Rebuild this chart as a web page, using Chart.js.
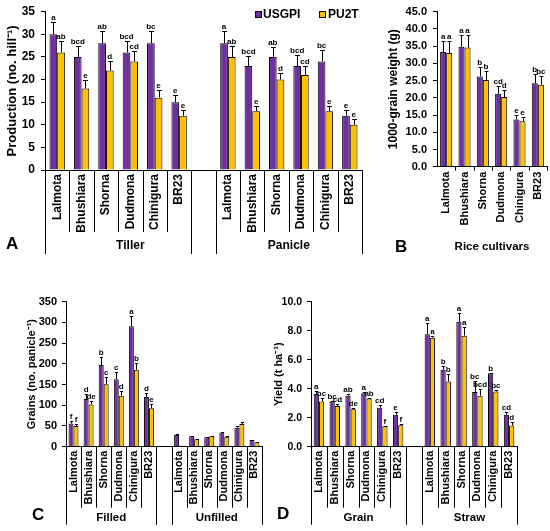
<!DOCTYPE html>
<html><head><meta charset="utf-8">
<script src="https://cdn.jsdelivr.net/npm/chart.js@4.4.1/dist/chart.umd.min.js"></script>
<style>
html,body{margin:0;padding:0;background:#fff;overflow:hidden;width:550px;height:531px}
.pan{position:absolute}
.txt{position:absolute;font-family:'Liberation Sans',Arial,Helvetica,sans-serif;font-weight:bold;color:#000;line-height:1;white-space:nowrap}
.box{position:absolute;width:5px;height:5px;border:1px solid #000}
</style></head><body>
<div class="pan" style="left:0;top:0;width:372px;height:262px"><canvas id="cA"></canvas></div>
<div class="pan" style="left:378px;top:0;width:172px;height:262px"><canvas id="cB"></canvas></div>
<div class="pan" style="left:0;top:262px;width:275px;height:269px"><canvas id="cC"></canvas></div>
<div class="pan" style="left:262px;top:262px;width:288px;height:269px"><canvas id="cD"></canvas></div>

<div class="box" style="left:255px;top:11px;background:#7030A0"></div>
<div class="txt" style="left:263px;top:8px;font-size:12px">USGPI</div>
<div class="box" style="left:319px;top:11px;background:#FFC000"></div>
<div class="txt" style="left:328px;top:8px;font-size:12px">PU2T</div>

<div class="txt" style="left:6px;top:235px;font-size:17px">A</div>
<div class="txt" style="left:395px;top:238px;font-size:17px">B</div>
<div class="txt" style="left:32px;top:506px;font-size:17px">C</div>
<div class="txt" style="left:277px;top:505px;font-size:17px">D</div>

<script>
// ---------- data ----------
const cultivars = ['Lalmota','Bhushiara','Shorna','Dudmona','Chinigura','BR23'];
const seriesNames = ['USGPI','PU2T'];

// Panel A: production (no. hill-1)
const aGroups = ['Tiller','Panicle'];
const tillerUSGPI = [30,25,28,26,28,15];
const tillerPU2T  = [26,18,22,24,16,12];
const tillerErrUSGPI = [2.8,2.5,2.8,2.5,2.8,1.6];
const tillerErrPU2T  = [2.6,1.9,2.2,2.4,1.7,1.3];
const tillerLetUSGPI = ['a','bcd','ab','bcd','bc','e'];
const tillerLetPU2T  = ['ab','e','d','cd','e','e'];
const panicleUSGPI = [28,23,25,23,24,12];
const paniclePU2T  = [25,13,20,21,13,10];
const panicleErrUSGPI = [2.8,2.2,2.3,2.4,2.5,1.2];
const panicleErrPU2T  = [2.4,1.1,1.4,2.1,1.1,1.2];
const panicleLetUSGPI = ['a','bcd','ab','bcd','bc','e'];
const panicleLetPU2T  = ['ab','e','d','cd','e','e'];
const aTicks = [0,5,10,15,20,25,30,35];

// Panel B: 1000-grain weight (g)
const weightUSGPI = [33.3,34.8,26.2,21.2,13.7,24.2];
const weightPU2T  = [33.0,34.6,25.2,20.2,13.2,23.8];
const weightErrUSGPI = [3.3,3.5,2.7,2.3,1.3,2.6];
const weightErrPU2T  = [3.4,3.5,2.5,2.1,1.2,2.5];
const weightLetUSGPI = ['a','a','b','cd','e','b'];
const weightLetPU2T  = ['a','a','b','d','e','bc'];
const bTicks = [0,5,10,15,20,25,30,35,40,45];

// Panel C: grains (no. panicle-1)
const cGroups = ['Filled','Unfilled'];
const filledUSGPI = [56,115,197,163,291,120];
const filledPU2T  = [50,102,151,123,186,93];
const filledErrUSGPI = [7,12,19,17,25,10];
const filledErrPU2T  = [5,8,17,12,17,9];
const filledLetUSGPI = ['f','d','b','c','a','d'];
const filledLetPU2T  = ['f','de','c','d','b','e'];
const unfilledUSGPI = [28,25,23,34,46,16];
const unfilledPU2T  = [2,18,25,24,55,11];
const unfilledErrUSGPI = [2,1.5,1.5,2.5,3,1];
const unfilledErrPU2T  = [0.5,1.5,1.5,1.5,4,1];
const cTicks = [0,50,100,150,200,250,300,350];

// Panel D: yield (t ha-1)
const dGroups = ['Grain','Straw'];
const grainUSGPI = [3.63,3.12,3.52,3.68,2.69,2.20];
const grainPU2T  = [3.12,2.80,2.59,3.33,1.41,1.48];
const grainErrUSGPI = [0.19,0.05,0.14,0.09,0.21,0.18];
const grainErrPU2T  = [0.24,0.14,0.07,0.05,0.05,0.12];
const grainLetUSGPI = ['a','bc','ab','a','cd','e'];
const grainLetPU2T  = ['bc','cd','de','ab','f','f'];
const strawUSGPI = [7.75,5.30,8.61,3.77,5.07,2.20];
const strawPU2T  = [7.52,4.49,7.66,3.52,3.80,1.46];
const strawErrUSGPI = [0.75,0.30,0.60,0.74,0.03,0.18];
const strawErrPU2T  = [0.14,0.53,0.60,0.46,0.09,0.25];
const strawLetUSGPI = ['a','b','a','bc','b','cd'];
const strawLetPU2T  = ['a','b','a','bcd','bc','d'];
const dTicks = [0,2,4,6,8,10];

// ---------- helpers ----------
const FONT = "'Liberation Sans', Arial, Helvetica, sans-serif";
const PURPLE = '#7030A0', YELLOW = '#FFC000';
Chart.defaults.font.family = FONT;
Chart.defaults.font.weight = 'bold';
Chart.defaults.color = '#000';

const join = (a, b, gap) => [...a, gap, ...b];

const errPlugin = {
  id: 'errLetters',
  afterDatasetsDraw(chart, args, o) {
    const ctx = chart.ctx, ys = chart.scales.y;
    chart.data.datasets.forEach((ds, di) => {
      const meta = chart.getDatasetMeta(di);
      meta.data.forEach((bar, i) => {
        const v = ds.data[i];
        if (v == null) return;
        const e = ds.errors ? ds.errors[i] : null;
        const x = Math.round(bar.x) + 0.5;
        let top = bar.y;
        ctx.save();
        if (e != null && e > 0) {
          top = Math.round(ys.getPixelForValue(v + e)) + 0.5;
          const hw = bar.width * o.cap / 2;
          ctx.strokeStyle = '#000'; ctx.lineWidth = 1;
          ctx.beginPath();
          ctx.moveTo(x, bar.y); ctx.lineTo(x, top);
          ctx.moveTo(x - hw, top); ctx.lineTo(x + hw, top);
          ctx.stroke();
        }
        const L = ds.letters ? ds.letters[i] : '';
        if (L) {
          ctx.font = 'bold ' + o.size + 'px ' + FONT;
          ctx.fillStyle = '#000'; ctx.textAlign = 'center'; ctx.textBaseline = 'bottom';
          ctx.fillText(L, bar.x, top - 1);
        }
        ctx.restore();
      });
    });
  }
};

const sepPlugin = {
  id: 'sep',
  afterDraw(chart, args, o) {
    const ctx = chart.ctx, xs = chart.scales.x;
    const n = chart.data.labels.length;
    const step = (xs.right - xs.left) / n;
    const y0 = xs.top;
    ctx.save();
    ctx.strokeStyle = '#000'; ctx.lineWidth = 1;
    ctx.beginPath();
    for (let k = 0; k <= n; k++) {
      if (o.skip && o.skip.includes(k)) continue;
      const len = o.outer.includes(k) ? o.outerLen : o.innerLen;
      const x = Math.round(xs.left + k * step) + 0.5;
      ctx.moveTo(x, y0); ctx.lineTo(x, y0 + len);
    }
    ctx.stroke();
    if (o.groups) {
      ctx.font = 'bold ' + o.groupSize + 'px ' + FONT;
      ctx.fillStyle = '#000'; ctx.textAlign = 'center'; ctx.textBaseline = 'middle';
      o.groups.forEach((g, gi) => {
        const span = o.spans[gi];
        const cx = xs.left + (span[0] + span[1]) / 2 * step;
        ctx.fillText(g, cx, o.groupY);
      });
    }
    ctx.restore();
  }
};

function makeChart(id, c) {
  const ds = (name, data, errs, lets, color) => ({
    label: name, data: data, errors: errs, letters: lets,
    backgroundColor: color, borderColor: '#000', borderWidth: 1,
    categoryPercentage: c.cp, barPercentage: 1.0
  });
  return new Chart(document.getElementById(id), {
    type: 'bar',
    data: {
      labels: c.labels,
      datasets: [
        ds(seriesNames[0], c.u, c.ue, c.ul, PURPLE),
        ds(seriesNames[1], c.p, c.pe, c.pl, YELLOW)
      ]
    },
    options: {
      responsive: true, maintainAspectRatio: false, animation: false,
      layout: { padding: c.pad },
      plugins: {
        legend: { display: false }, tooltip: { enabled: false },
        errLetters: { cap: 0.65, size: 8 },
        sep: c.sep
      },
      scales: {
        x: {
          grid: { display: false, drawTicks: false },
          border: { display: true, color: '#000', width: 1 },
          ticks: { autoSkip: false, maxRotation: 90, minRotation: 90, padding: c.xPad,
                   font: { size: c.xFont, weight: 'bold' } },
          title: c.xTitle ? { display: true, text: c.xTitle, font: { size: 11.5, weight: 'bold' },
                              padding: { top: 0, bottom: c.xTitlePad } } : { display: false },
          afterFit(s) { s.height = c.xH; s.paddingLeft = 0; s.paddingRight = 0; }
        },
        y: {
          min: 0, max: c.ticks[c.ticks.length - 1],
          afterBuildTicks(s) { s.ticks = c.ticks.map(v => ({ value: v })); },
          ticks: { padding: c.yPad, font: { size: c.yFont, weight: 'bold' },
                   callback: v => c.dec ? Number(v).toFixed(c.dec) : v },
          grid: { display: true, drawOnChartArea: false, drawTicks: true, tickLength: 4, color: '#000' },
          border: { display: true, color: '#000', width: 1 },
          title: { display: true, text: c.yTitle, font: { size: c.yTitleFont, weight: 'bold' },
                   padding: { top: c.yTitlePad, bottom: 0 } },
          afterFit(s) { s.width = c.yW; s.paddingTop = 0; s.paddingBottom = 0; }
        }
      }
    },
    plugins: [errPlugin, sepPlugin]
  });
}

// Panel A
makeChart('cA', {
  labels: join(cultivars, cultivars, ''),
  u: join(tillerUSGPI, panicleUSGPI, null), p: join(tillerPU2T, paniclePU2T, null),
  ue: join(tillerErrUSGPI, panicleErrUSGPI, null), pe: join(tillerErrPU2T, panicleErrPU2T, null),
  ul: join(tillerLetUSGPI, panicleLetUSGPI, ''), pl: join(tillerLetPU2T, panicleLetPU2T, ''),
  cp: 0.63, ticks: aTicks, dec: 0,
  pad: { left: 0, top: 11.7, right: 10, bottom: 0 },
  yW: 45, xH: 92, xPad: 4, xFont: 12, yFont: 12, yPad: 6,
  yTitle: 'Production (no. hill\u207B\u00B9)', yTitleFont: 13, yTitlePad: 5,
  sep: { outer: [0, 6, 7, 13], outerLen: 84, innerLen: 62, groups: aGroups,
         spans: [[0, 7], [7, 13]], groupY: 246, groupSize: 12 }
});

// Panel B
makeChart('cB', {
  labels: cultivars,
  u: weightUSGPI, p: weightPU2T, ue: weightErrUSGPI, pe: weightErrPU2T,
  ul: weightLetUSGPI, pl: weightLetPU2T,
  cp: 0.66, ticks: bTicks, dec: 1,
  pad: { left: 0, top: 11.7, right: 3, bottom: 0 },
  yW: 59, xH: 95.3, xPad: 5, xFont: 11, yFont: 11, yPad: 6,
  yTitle: '1000-grain weight (g)', yTitleFont: 12, yTitlePad: 8,
  xTitle: 'Rice cultivars', xTitlePad: 8.5,
  sep: { outer: [], outerLen: 4, innerLen: 4, skip: [0] }
});

// Panel C
makeChart('cC', {
  labels: join(cultivars, cultivars, ''),
  u: join(filledUSGPI, unfilledUSGPI, null), p: join(filledPU2T, unfilledPU2T, null),
  ue: join(filledErrUSGPI, unfilledErrUSGPI, null), pe: join(filledErrPU2T, unfilledErrPU2T, null),
  ul: join(filledLetUSGPI, ['', '', '', '', '', ''], ''), pl: join(filledLetPU2T, ['', '', '', '', '', ''], ''),
  cp: 0.66, ticks: cTicks, dec: 0,
  pad: { left: 20, top: 39.7, right: 13, bottom: 0 },
  yW: 46, xH: 84.3, xPad: 4, xFont: 11, yFont: 11, yPad: 5,
  yTitle: 'Grains (no. panicle\u207B\u00B9)', yTitleFont: 11, yTitlePad: 5.4,
  sep: { outer: [0, 6, 7, 13], outerLen: 78, innerLen: 61, groups: cGroups,
         spans: [[0, 6], [7, 13]], groupY: 256, groupSize: 11.5 }
});

// Panel D
makeChart('cD', {
  labels: join(cultivars, cultivars, ''),
  u: join(grainUSGPI, strawUSGPI, null), p: join(grainPU2T, strawPU2T, null),
  ue: join(grainErrUSGPI, strawErrUSGPI, null), pe: join(grainErrPU2T, strawErrPU2T, null),
  ul: join(grainLetUSGPI, strawLetUSGPI, ''), pl: join(grainLetPU2T, strawLetPU2T, ''),
  cp: 0.66, ticks: dTicks, dec: 1,
  pad: { left: 5, top: 39.7, right: 33, bottom: 0 },
  yW: 44, xH: 84.3, xPad: 4, xFont: 11, yFont: 10.5, yPad: 5,
  yTitle: 'Yield (t ha\u207B\u00B9)', yTitleFont: 11, yTitlePad: 5.4,
  sep: { outer: [0, 6, 7, 13], outerLen: 78, innerLen: 61, groups: dGroups,
         spans: [[0, 6], [7, 13]], groupY: 256, groupSize: 11.5 }
});
</script>
</body></html>
